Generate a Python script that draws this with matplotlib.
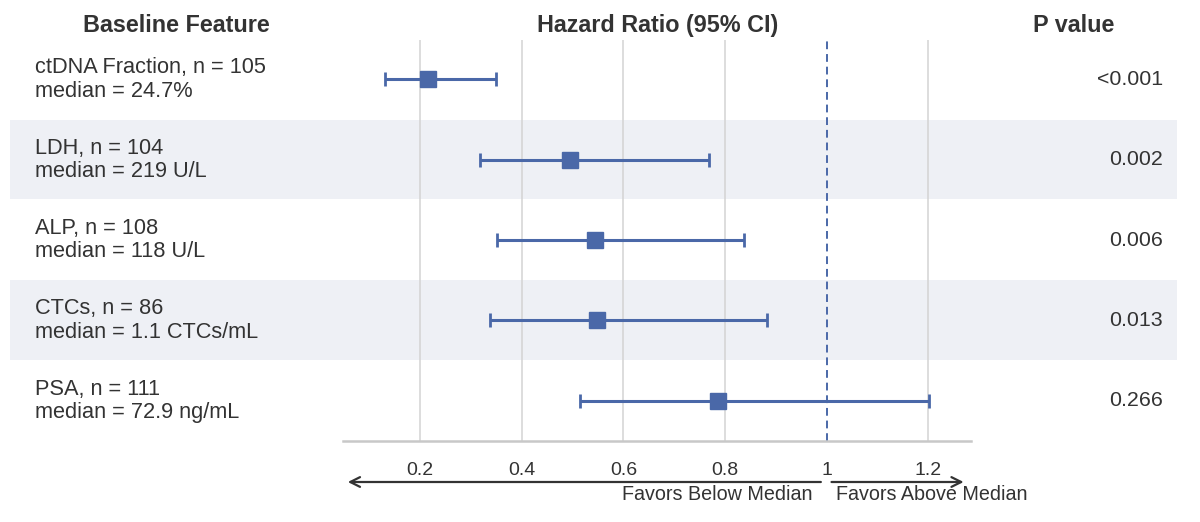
import matplotlib.pyplot as plt
import matplotlib.transforms as mtransforms

plt.rcParams['font.family'] = ['Liberation Sans', 'DejaVu Sans']

# data
features = ['ctDNA Fraction, n = 105\nmedian = 24.7%',
            'LDH, n = 104\nmedian = 219 U/L',
            'ALP, n = 108\nmedian = 118 U/L',
            'CTCs, n = 86\nmedian = 1.1 CTCs/mL',
            'PSA, n = 111\nmedian = 72.9 ng/mL']
hr = [0.215, 0.494, 0.543, 0.547, 0.786]
ci_low = [0.131, 0.317, 0.352, 0.338, 0.515]
ci_high = [0.350, 0.768, 0.837, 0.882, 1.202]
p_values = ['<0.001', '0.002', '0.006', '0.013', '0.266']
ticks = [0.2, 0.4, 0.6, 0.8, 1.0, 1.2]
tick_labels = ['0.2', '0.4', '0.6', '0.8', '1', '1.2']

blue = '#4a68a8'
text_col = '#333333'
band_col = '#eef0f5'

W, H = 1200, 522
fig = plt.figure(figsize=(12, 5.22), dpi=100)
ax = fig.add_axes([343 / W, (H - 441) / H, 628 / W, 401 / H])

rows = list(range(len(features)))
ax.set_xlim(0.048, 1.284)
ax.set_ylim(4.5, -0.49)

# alternating row bands, extended over the text columns
for i in rows:
    if i % 2 == 1:
        ax.axhspan(i - 0.5, i + 0.49, xmin=-0.530, xmax=1.328,
                   color=band_col, zorder=0, clip_on=False, lw=0)

for t in ticks:
    if t == 1.0:
        ax.axvline(t, color=blue, lw=1.4, ls=(0, (4, 2.5)), zorder=1)
    else:
        ax.axvline(t, color='#d3d3d3', lw=1.1, zorder=1)

xerr = [[h - lo for h, lo in zip(hr, ci_low)],
        [hi - h for h, hi in zip(hr, ci_high)]]
ax.errorbar(hr, rows, xerr=xerr, fmt='s', color=blue, ms=12,
            elinewidth=2.2, capsize=5, capthick=2.0, zorder=3)

for s in ['top', 'left', 'right']:
    ax.spines[s].set_visible(False)
ax.spines['bottom'].set_color('#c8c8c8')
ax.spines['bottom'].set_linewidth(1.8)
ax.set_yticks([])
ax.set_xticks(ticks)
ax.set_xticklabels(tick_labels)
ax.tick_params(axis='x', length=0, pad=15, labelsize=14, labelcolor=text_col)

# text columns
trans = mtransforms.blended_transform_factory(ax.transAxes, ax.transData)
for i, (lab, p) in enumerate(zip(features, p_values)):
    ax.text(-0.490, i, lab, transform=trans, ha='left', va='center',
            fontsize=15.7, color=text_col, linespacing=1.15)
    ax.text(1.306, i, p, transform=trans, ha='right', va='center',
            fontsize=15.4, color=text_col)

hdr = dict(transform=ax.transAxes, ha='center', va='center', fontsize=16.8,
           fontweight='bold', color=text_col)
ax.text((176 - 343) / 628, 1.035, 'Baseline Feature', **hdr)
ax.text((658 - 343) / 628, 1.035, 'Hazard Ratio (95% CI)', **hdr)
ax.text((1074 - 343) / 628, 1.035, 'P value', **hdr)

# favour arrows under the axis
arrow_y = H - 482
ax.annotate('', xy=(0.052, arrow_y), xytext=(0.994, arrow_y),
            xycoords=('data', 'figure pixels'),
            arrowprops=dict(arrowstyle='->,head_width=0.35,head_length=0.7',
                            color=text_col, lw=1.6), annotation_clip=False)
ax.annotate('', xy=(1.275, arrow_y), xytext=(1.004, arrow_y),
            xycoords=('data', 'figure pixels'),
            arrowprops=dict(arrowstyle='->,head_width=0.35,head_length=0.7',
                            color=text_col, lw=1.6), annotation_clip=False)
ax.annotate('Favors Below Median', xy=(0.972, H - 494),
            xycoords=('data', 'figure pixels'), ha='right', va='center',
            fontsize=14.2, color=text_col, annotation_clip=False)
ax.annotate('Favors Above Median', xy=(1.018, H - 494),
            xycoords=('data', 'figure pixels'), ha='left', va='center',
            fontsize=14.2, color=text_col, annotation_clip=False)

fig.savefig('out.png', dpi=100, facecolor='white')
